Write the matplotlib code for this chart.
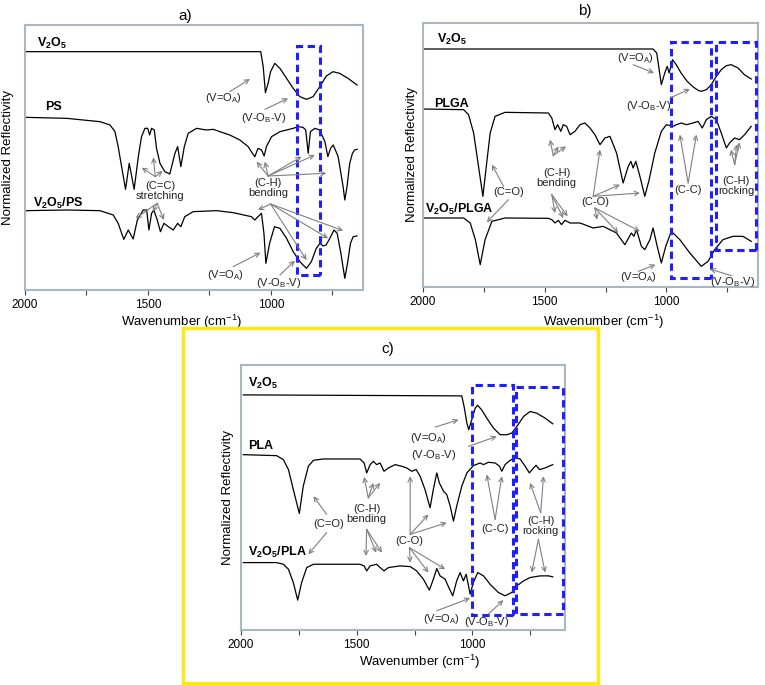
import numpy as np
import matplotlib.pyplot as plt
from matplotlib.patches import Rectangle

plt.rcParams['font.family'] = ['Liberation Sans', 'DejaVu Sans']
plt.rcParams['mathtext.fontset'] = 'custom'
plt.rcParams['mathtext.rm'] = 'Liberation Sans'
plt.rcParams['mathtext.bf'] = 'Liberation Sans:bold'
plt.rcParams['mathtext.default'] = 'regular'

# spectra: (wavenumber cm-1, normalized reflectivity, a.u.)
a_v2o5 = [(2000, 845), (1041, 845), (1031, 800), (1022, 722), (1011, 750), (1001, 785),
          (984, 810), (963, 795), (936, 765), (909, 735), (882, 710), (855, 702),
          (828, 710), (801, 740), (774, 772), (747, 785), (720, 780), (686, 765), (649, 745)]
a_ps = [(2000, 648), (1831, 645), (1695, 635), (1654, 625), (1634, 605), (1621, 560),
        (1607, 500), (1591, 432), (1576, 510), (1556, 432), (1539, 530), (1526, 590),
        (1512, 615), (1501, 615), (1493, 595), (1485, 615), (1474, 610), (1465, 555),
        (1451, 510), (1431, 485), (1411, 478), (1390, 540), (1379, 560), (1366, 500),
        (1352, 560), (1336, 600), (1302, 615), (1262, 610), (1234, 612), (1207, 605),
        (1167, 595), (1126, 580), (1092, 560), (1075, 540), (1065, 530), (1052, 555),
        (1038, 550), (1027, 532), (1018, 560), (997, 590), (963, 605), (936, 610),
        (909, 615), (889, 620), (869, 618), (858, 610), (848, 540), (839, 605),
        (821, 615), (801, 610), (780, 575), (768, 530), (757, 555), (746, 565),
        (726, 530), (706, 440), (699, 400), (690, 440), (679, 510), (668, 540),
        (659, 550), (649, 552)]
a_v2o5_ps = [(2000, 368), (1831, 370), (1695, 368), (1641, 355), (1621, 330), (1598, 282),
             (1580, 310), (1560, 283), (1543, 340), (1519, 370), (1505, 370), (1496, 310),
             (1485, 360), (1476, 370), (1462, 340), (1449, 305), (1435, 330), (1417, 320),
             (1397, 310), (1379, 330), (1366, 320), (1350, 350), (1316, 365), (1221, 368),
             (1153, 362), (1079, 350), (1065, 340), (1052, 350), (1038, 360), (1028, 300),
             (1020, 210), (1005, 270), (985, 320), (963, 315), (936, 285), (909, 245),
             (882, 215), (855, 195), (835, 215), (815, 255), (800, 270), (787, 262),
             (775, 265), (760, 285), (743, 310), (730, 300), (715, 240), (699, 165),
             (688, 210), (676, 270), (665, 290), (650, 292)]

b_v2o5 = [(2000, 852), (1055, 852), (1040, 840), (1030, 790), (1021, 745), (1007, 780),
          (997, 800), (989, 780), (975, 820), (960, 805), (940, 780), (915, 755),
          (890, 738), (870, 728), (857, 725), (836, 730), (816, 745), (795, 770),
          (775, 790), (754, 802), (734, 805), (706, 795), (680, 775), (652, 762)]
b_plga = [(2000, 672), (1833, 670), (1813, 655), (1792, 600), (1772, 500), (1754, 410),
          (1740, 500), (1724, 600), (1704, 650), (1663, 662), (1485, 660), (1471, 645),
          (1458, 610), (1447, 625), (1434, 605), (1424, 625), (1410, 620), (1396, 595),
          (1376, 605), (1355, 625), (1335, 630), (1314, 615), (1294, 595), (1273, 565),
          (1253, 585), (1232, 590), (1205, 540), (1178, 450), (1157, 500), (1146, 515),
          (1137, 495), (1126, 515), (1109, 470), (1089, 410), (1071, 460), (1048, 540),
          (1021, 605), (1000, 625), (973, 620), (959, 625), (939, 630), (918, 625),
          (891, 630), (870, 635), (853, 615), (836, 640), (816, 650), (795, 640),
          (775, 600), (754, 555), (741, 570), (720, 585), (700, 580), (679, 595), (652, 620)]
b_v2o5_plga = [(2000, 345), (1833, 345), (1806, 330), (1785, 280), (1765, 205), (1745, 280),
               (1717, 335), (1663, 345), (1485, 344), (1471, 340), (1458, 330), (1444, 338),
               (1431, 325), (1417, 338), (1396, 330), (1355, 330), (1301, 315), (1260, 320),
               (1205, 300), (1171, 265), (1144, 300), (1134, 290), (1123, 310), (1103, 260),
               (1089, 250), (1068, 280), (1055, 315), (1038, 260), (1021, 210), (1003, 260),
               (980, 305), (945, 280), (904, 240), (857, 200), (829, 215), (802, 250),
               (768, 280), (727, 290), (686, 290), (652, 275)]

c_v2o5 = [(1990, 715), (1046, 712), (1036, 680), (1024, 630), (1016, 610), (1003, 640),
          (988, 675), (978, 684), (960, 670), (938, 645), (909, 615), (880, 595),
          (852, 595), (830, 600), (808, 620), (779, 650), (751, 665), (722, 660),
          (686, 645), (653, 628)]
c_pla = [(1990, 535), (1846, 532), (1817, 520), (1795, 490), (1774, 430), (1748, 358),
         (1731, 440), (1709, 500), (1687, 518), (1644, 522), (1486, 522), (1468, 510),
         (1457, 480), (1442, 505), (1428, 515), (1414, 505), (1399, 510), (1382, 485),
         (1363, 495), (1334, 505), (1305, 500), (1284, 495), (1262, 485), (1243, 490),
         (1226, 470), (1205, 430), (1183, 375), (1169, 430), (1154, 480), (1143, 450),
         (1125, 425), (1111, 415), (1096, 380), (1082, 335), (1068, 380), (1046, 440),
         (1024, 480), (996, 502), (967, 510), (952, 505), (931, 512), (902, 510),
         (883, 500), (873, 485), (859, 505), (837, 518), (816, 525), (794, 522),
         (772, 500), (754, 480), (736, 495), (725, 503), (710, 490), (686, 495), (653, 505)]
c_v2o5_pla = [(1990, 210), (1846, 210), (1817, 205), (1795, 190), (1774, 150), (1755, 97),
              (1738, 150), (1716, 195), (1687, 205), (1486, 205), (1468, 200), (1457, 185),
              (1442, 200), (1414, 205), (1399, 195), (1382, 185), (1363, 195), (1313, 200),
              (1269, 198), (1241, 185), (1212, 160), (1186, 127), (1169, 160), (1154, 192),
              (1140, 170), (1118, 160), (1099, 130), (1085, 110), (1068, 155), (1053, 180),
              (1039, 155), (1027, 175), (1017, 140), (1010, 115), (996, 150), (977, 180),
              (952, 170), (924, 145), (888, 120), (859, 110), (830, 120), (808, 140),
              (779, 155), (751, 165), (707, 170), (671, 170), (653, 167)]

# sample names, peak assignments and highlighted regions
a_names = [("V$_2$O$_5$", 1953, 870), ("PS", 1919, 678), ("V$_2$O$_5$/PS", 1966, 390)]
b_names = [("V$_2$O$_5$", 1943, 880), ("PLGA", 1956, 688), ("V$_2$O$_5$/PLGA", 1990, 370)]
c_names = [("V$_2$O$_5$", 1968, 750), ("PLA", 1968, 560), ("V$_2$O$_5$/PLA", 1968, 240)]

a_notes = [("(V=O$_A$)", 1191, 705), ("(V-O$_B$-V)", 1031, 645),
           ("(C=C)\nstretching", 1451, 426), ("(C-H)\nbending", 1011, 435),
           ("(V=O$_A$)", 1183, 175), ("(V-O$_B$-V)", 970, 152)]
b_notes = [("(V=O$_A$)", 1127, 825), ("(V-O$_B$-V)", 1075, 680), ("(C=O)", 1649, 422),
           ("(C-H)\nbending", 1451, 465), ("(C-O)", 1292, 392), ("(C-C)", 911, 428),
           ("(C-H)\nrocking", 713, 440), ("(V=O$_A$)", 1116, 168), ("(V-O$_B$-V)", 727, 152)]
c_notes = [("(V=O$_A$)", 1190, 585), ("(V-O$_B$-V)", 1169, 535), ("(C=O)", 1622, 325),
           ("(C-H)\nbending", 1457, 355), ("(C-O)", 1272, 275), ("(C-C)", 902, 310),
           ("(C-H)\nrocking", 705, 320), ("(V=O$_A$)", 1133, 40), ("(V-O$_B$-V)", 938, 32)]

a_arrows = [((1167, 725), (1085, 763)), ((1024, 672), (930, 705)),
            ((1470, 470), (1525, 497)), ((1470, 470), (1478, 528)), ((1470, 470), (1440, 487)),
            ((1462, 390), (1550, 345)), ((1462, 390), (1435, 340)), ((1462, 390), (1480, 365)),
            ((1011, 472), (1058, 515)), ((1011, 472), (1024, 515)), ((1011, 472), (875, 530)),
            ((1011, 472), (821, 535)), ((1011, 472), (774, 480)),
            ((1001, 388), (1052, 370)), ((1001, 388), (855, 220)), ((1001, 388), (767, 285)),
            ((1001, 388), (706, 308)), ((1153, 200), (1042, 242)), ((963, 175), (902, 218))]
b_arrows = [((1137, 805), (1051, 780)), ((986, 705), (904, 732)),
            ((1669, 440), (1717, 505)), ((1649, 400), (1738, 332)),
            ((1465, 532), (1478, 580)), ((1465, 532), (1444, 560)), ((1465, 532), (1413, 560)),
            ((1471, 415), (1458, 360)), ((1471, 415), (1424, 345)), ((1471, 415), (1406, 350)),
            ((1301, 410), (1273, 550)), ((1301, 410), (1191, 445)), ((1301, 410), (1109, 420)),
            ((1294, 375), (1198, 300)), ((1294, 375), (1109, 305)), ((1294, 375), (1285, 340)),
            ((911, 450), (945, 595)), ((911, 450), (877, 595)),
            ((720, 505), (735, 550)), ((720, 505), (700, 572)), ((720, 505), (712, 565)),
            ((1116, 185), (1045, 205)), ((734, 172), (822, 192))]
c_arrows = [((1161, 618), (1060, 640)), ((1017, 560), (895, 590)),
            ((1630, 355), (1687, 410)), ((1630, 300), (1709, 235)),
            ((1450, 405), (1468, 468)), ((1450, 405), (1428, 450)), ((1450, 405), (1399, 450)),
            ((1457, 310), (1460, 230)), ((1457, 310), (1416, 240)), ((1457, 310), (1391, 240)),
            ((1269, 295), (1269, 470)), ((1269, 295), (1190, 355)), ((1269, 295), (1111, 330)),
            ((1272, 255), (1269, 210)), ((1272, 255), (1190, 180)), ((1272, 255), (1118, 190)),
            ((902, 340), (938, 475)), ((902, 340), (873, 470)),
            ((705, 360), (751, 450)), ((705, 360), (693, 470)),
            ((715, 280), (744, 180)), ((715, 280), (686, 180)),
            ((1154, 65), (1010, 103)), ((931, 55), (866, 97))]

# (wn_low, wn_high, r_low, r_high)
a_boxes = [(798, 892, 175, 862)]
b_boxes = [(816, 980, 165, 872), (631, 795, 250, 872)]
c_boxes = [(823, 1000, 52, 745), (609, 811, 55, 738)]

frame_col = '#a9b8c0'
arrow_col = '#808080'
box_col = '#1e1eff'


def draw_panel(ax, curves, names, notes, arrows, boxes, xlim, ylim, xlab_x, xlab_y, ylab_x):
    for c in curves:
        wn, r = np.array(c).T
        ax.plot(wn, r, color='black', lw=0.9)
    for lo, hi, rlo, rhi in boxes:
        ax.add_patch(Rectangle((lo, rlo), hi - lo, rhi - rlo, fill=False, ec=box_col,
                               lw=2.2, ls=(0, (2.4, 1.5)), zorder=3))
    for start, end in arrows:
        ax.annotate('', xy=end, xytext=start,
                    arrowprops=dict(arrowstyle='->', color=arrow_col, lw=0.8,
                                    shrinkA=0, shrinkB=0, mutation_scale=8))
    for t, x, y in names:
        ax.text(x, y, t, fontsize=9, fontweight='bold', ha='left', va='center')
    for t, x, y in notes:
        ax.text(x, y, t, fontsize=8, ha='center', va='center', color='#222222',
                linespacing=1.0)
    ax.set_xlim(*xlim)
    ax.set_ylim(*ylim)
    ax.set_xticks([2000, 1750, 1500, 1250, 1000, 750])
    ax.set_xticklabels(['2000', '', '1500', '', '1000', ''])
    ax.tick_params(axis='x', direction='out', length=3.5, width=0.8, pad=3,
                   labelsize=8.5, color='#444444')
    ax.set_yticks([])
    for s in ax.spines.values():
        s.set_color(frame_col)
        s.set_linewidth(1.5)
    ax.set_xlabel('Wavenumber (cm$^{-1}$)', fontsize=9.5, va='center')
    ax.xaxis.set_label_coords(xlab_x, xlab_y)
    ax.set_ylabel('Normalized Reflectivity', fontsize=9.5, va='center')
    ax.yaxis.set_label_coords(ylab_x, 0.5)


fig = plt.figure(figsize=(7.65, 6.85), dpi=100)
W, H = 765, 685


def px_axes(l, t, r, b):
    return fig.add_axes([l / W, 1 - b / H, (r - l) / W, (b - t) / H])


ax_a = px_axes(25, 25, 363, 290)
ax_b = px_axes(423, 23, 758, 287)
ax_c = px_axes(241, 365, 565, 630)

draw_panel(ax_a, [a_v2o5, a_ps, a_v2o5_ps], a_names, a_notes, a_arrows, a_boxes,
           (2000, 625), (130, 925), 0.464, -0.121, -0.05)
draw_panel(ax_b, [b_v2o5, b_plga, b_v2o5_plga], b_names, b_notes, b_arrows, b_boxes,
           (2000, 624), (138, 930), 0.54, -0.131, -0.033)
draw_panel(ax_c, [c_v2o5, c_pla, c_v2o5_pla], c_names, c_notes, c_arrows, c_boxes,
           (2000, 600), (7, 805), 0.55, -0.12, -0.039)

fig.text(185 / W, 1 - 16 / H, 'a)', fontsize=11, ha='center', va='center')
fig.text(585 / W, 1 - 11 / H, 'b)', fontsize=11, ha='center', va='center')
fig.text(388 / W, 1 - 349 / H, 'c)', fontsize=11, ha='center', va='center')

fig.patches.append(Rectangle((183 / W, 1 - 683 / H), (598 - 183) / W, (683 - 328) / H,
                             transform=fig.transFigure, fill=False, ec='#ffe81a', lw=2.5))

fig.savefig('out.png', dpi=100)
